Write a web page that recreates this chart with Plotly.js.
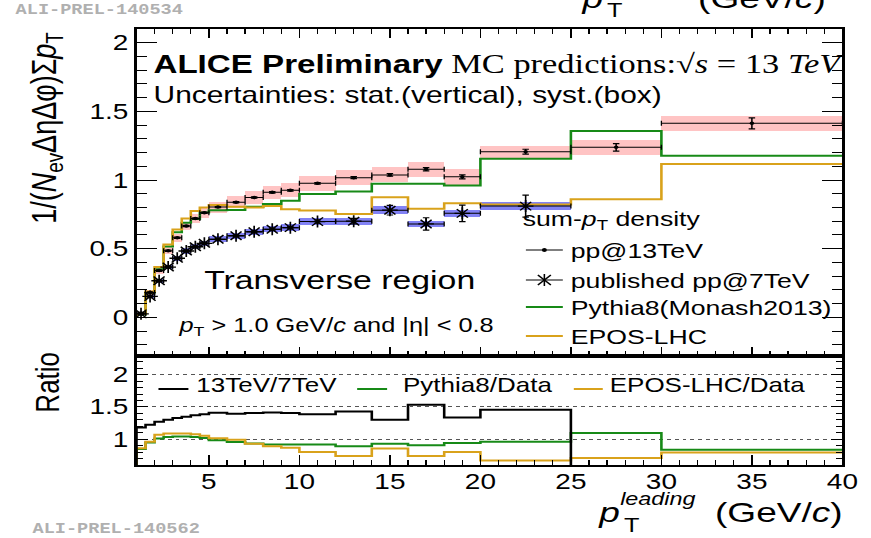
<!DOCTYPE html>
<html><head><meta charset="utf-8">
<script src="https://cdn.plot.ly/plotly-3.0.1.min.js"></script>
<style>
html,body{margin:0;padding:0;overflow:hidden;background:#fff;}
#chart{width:670px;height:538px;transform:scaleX(1.3);transform-origin:0 0;}
</style></head><body><div id="chart"></div>
<script>
// ---- data ----
const binEdges = [1,1.5,2,2.5,3,3.5,4,4.5,5,6,7,8,9,10,12,14,16,18,20,25,30,40];
const pp13     = [0.03,0.18,0.34,0.485,0.58,0.665,0.72,0.762,0.803,0.838,0.872,0.91,0.925,0.976,1.017,1.037,1.078,1.023,1.206,1.238,1.413];
const pp13Stat = [0.006,0.005,0.005,0.005,0.005,0.005,0.005,0.005,0.004,0.005,0.005,0.006,0.006,0.006,0.007,0.009,0.012,0.015,0.018,0.027,0.04];
const pp13Syst = [0.012,0.018,0.022,0.026,0.03,0.032,0.035,0.037,0.04,0.043,0.045,0.048,0.05,0.054,0.055,0.055,0.056,0.057,0.045,0.055,0.056];
const pp7      = [0.025,0.152,0.266,0.366,0.43,0.483,0.514,0.539,0.568,0.594,0.623,0.641,0.653,0.697,0.70,0.78,0.68,0.757,0.81];
const pp7Stat  = [0.005,0.005,0.005,0.005,0.005,0.005,0.005,0.005,0.005,0.006,0.007,0.008,0.009,0.012,0.02,0.035,0.045,0.06,0.08];
const pp7Syst  = [0.01,0.012,0.015,0.017,0.018,0.019,0.02,0.02,0.021,0.022,0.022,0.023,0.023,0.024,0.025,0.03,0.025,0.027,0.03];
const pythia   = [0.02,0.18,0.35,0.515,0.62,0.688,0.716,0.763,0.78,0.782,0.806,0.825,0.848,0.898,0.916,0.972,0.972,0.96,1.155,1.357,1.177];
const epos     = [0.025,0.187,0.366,0.53,0.64,0.72,0.774,0.80,0.818,0.806,0.80,0.81,0.787,0.777,0.752,0.874,0.79,0.83,0.822,0.86,1.117];
const ratio13to7  = [1.18,1.225,1.27,1.30,1.33,1.35,1.37,1.385,1.41,1.395,1.405,1.415,1.405,1.386,1.43,1.30,1.535,1.335,1.458,0,0];
const ratioPythia = [0.85,0.95,1.01,1.036,1.04,1.04,1.036,1.02,0.985,0.955,0.935,0.918,0.918,0.918,0.89,0.93,0.905,0.94,0.96,1.097,0.835];
const ratioEpos   = [0.86,0.96,1.07,1.087,1.09,1.087,1.077,1.055,1.015,0.99,0.93,0.89,0.866,0.80,0.74,0.856,0.74,0.80,0.67,0.71,0.795];

// ---- geometry / style ----
const S = 1.3;                 // horizontal stretch of the reference
const W = 871 / S, H = 538;
const PX0 = 136, PX1 = 843, PY0 = 29, PY1 = 465;
const L = PX0 / S, R = W - PX1 / S, T = PY0, B = H - PY1;
const xp = px => (px - PX0) / (PX1 - PX0);
const yp = py => (PY1 - py) / (PY1 - PY0);
const FONT = 'Liberation Sans, Arial, sans-serif';
const GREEN = '#178a17', ORANGE = '#d9a21b', PINK = 'rgb(255,196,196)', BLUE = 'rgb(130,130,245)';

const lo = binEdges.slice(0, -1), hi = binEdges.slice(1);
const centers = lo.map((a, i) => (a + hi[i]) / 2);
const halfW = lo.map((a, i) => (hi[i] - a) / 2);
const widths = lo.map((a, i) => hi[i] - a);
const stepX = [binEdges[0], ...binEdges];
const stepY = v => [0, ...v, v[v.length - 1]];
const n7 = pp7.length;

const traces = [
  {type:'bar', x:centers, y:pp13Syst.map(s=>2*s), base:pp13.map((v,i)=>v-pp13Syst[i]), width:widths,
   marker:{color:PINK, line:{width:0}}, xaxis:'x', yaxis:'y', hoverinfo:'skip'},
  {type:'bar', x:centers.slice(0,n7), y:pp7Syst.map(s=>2*s), base:pp7.map((v,i)=>v-pp7Syst[i]), width:widths.slice(0,n7),
   marker:{color:BLUE, line:{width:0}}, xaxis:'x', yaxis:'y', hoverinfo:'skip'},
  {type:'scatter', mode:'lines', x:stepX, y:stepY(pythia), line:{shape:'hv', color:GREEN, width:2}, xaxis:'x', yaxis:'y'},
  {type:'scatter', mode:'lines', x:stepX, y:stepY(epos), line:{shape:'hv', color:ORANGE, width:2}, xaxis:'x', yaxis:'y'},
  {type:'scatter', mode:'markers', x:centers, y:pp13, marker:{symbol:'circle', size:3.5, color:'black'},
   error_y:{type:'data', array:pp13Stat, color:'black', thickness:1.2, width:2.5},
   error_x:{type:'data', array:halfW, color:'black', thickness:1, width:2.5}, xaxis:'x', yaxis:'y'},
  {type:'scatter', mode:'markers', x:centers.slice(0,n7), y:pp7,
   marker:{symbol:'asterisk-open', size:10, color:'black', line:{color:'black', width:1.3}},
   error_y:{type:'data', array:pp7Stat, color:'black', thickness:1.2, width:2.5},
   error_x:{type:'data', array:halfW.slice(0,n7), color:'black', thickness:1, width:2.5}, xaxis:'x', yaxis:'y'},
  {type:'scatter', mode:'lines', x:stepX, y:stepY(ratioPythia), line:{shape:'hv', color:GREEN, width:2}, xaxis:'x2', yaxis:'y2'},
  {type:'scatter', mode:'lines', x:stepX, y:stepY(ratioEpos), line:{shape:'hv', color:ORANGE, width:2}, xaxis:'x2', yaxis:'y2'},
  {type:'scatter', mode:'lines', x:stepX, y:stepY(ratio13to7), line:{shape:'hv', color:'black', width:2}, xaxis:'x2', yaxis:'y2'}
];

const tickFont = {family:FONT, size:21.5, color:'black'};
const axBase = {showline:true, linecolor:'black', linewidth:2, ticks:'inside', tickcolor:'black', tickwidth:1,
                showgrid:false, zeroline:false, tickfont:tickFont};

const layout = {
  width:W, height:H, margin:{l:L, r:R, t:T, b:B, pad:0}, showlegend:false,
  paper_bgcolor:'white', plot_bgcolor:'white', barmode:'overlay', bargap:0,
  xaxis: Object.assign({}, axBase, {domain:[0,1], range:[1,40], anchor:'y', showticklabels:false, mirror:'allticks',
          dtick:5, tick0:0, ticklen:9, minor:{ticks:'inside', dtick:1, tick0:0, ticklen:5, tickcolor:'black', tickwidth:1}}),
  xaxis2: Object.assign({}, axBase, {domain:[0,1], range:[1,40], anchor:'y2', mirror:true, ticklabelstandoff:-4,
          dtick:5, tick0:0, ticklen:10, minor:{ticks:'inside', dtick:1, tick0:0, ticklen:5, tickcolor:'black', tickwidth:1}}),
  yaxis: Object.assign({}, axBase, {domain:[0.25,1], range:[-0.282,2.1], anchor:'x', mirror:'allticks',
          dtick:0.5, tick0:0, ticklen:16, minor:{ticks:'inside', dtick:0.1, tick0:0, ticklen:8, tickcolor:'black', tickwidth:1}}),
  yaxis2: Object.assign({}, axBase, {domain:[0,0.25], range:[0.6,2.29], anchor:'x2', mirror:'allticks',
          dtick:0.5, tick0:0, ticklen:9, showgrid:true, griddash:'dot', gridcolor:'#555', gridwidth:1,
          minor:{ticks:'inside', dtick:0.1, tick0:0, ticklen:5, tickcolor:'black', tickwidth:1}}),
  annotations: [], shapes: []
};

function txt(text, px, py, size, extra) {
  layout.annotations.push(Object.assign({xref:'paper', yref:'paper', x:xp(px), y:yp(py), text:text, showarrow:false,
    xanchor:'left', yanchor:'middle', borderpad:0, font:{family:FONT, size:size, color:'black'}}, extra || {}));
}
function seg(x0, y0, x1, y1, color, w) {
  layout.shapes.push({type:'line', xref:'paper', yref:'paper', x0:xp(x0), y0:yp(y0), x1:xp(x1), y1:yp(y1),
    line:{color:color, width:w}});
}
const mono = {family:'Liberation Mono, monospace', size:14.3, color:'#b0b0b0'};
txt('<b>ALI-PREL-140534</b>', 14, 10, 14.3, {font:mono});
txt('<b>ALI-PREL-140562</b>', 30, 529, 14.3, {font:mono});
txt('<b>ALICE Preliminary</b>', 151, 64, 25.5);
txt('MC predictions:√<i>s</i> = 13 <i>TeV</i>', 450, 64, 26.5, {font:{family:'Liberation Serif, serif', size:26.5, color:'black'}});
txt('Uncertainties: stat.(vertical), syst.(box)', 151, 95, 23);
txt('Transverse region', 202, 280, 26);
txt('<i>p</i><sub>T</sub> &gt; 1.0 GeV/<i>c</i> and |η| &lt; 0.8', 176, 326, 19.5);
txt('sum-<i>p</i><sub>T</sub> density', 521, 220, 20.5);
txt('pp@13TeV', 569, 250, 20.5);
txt('published pp@7TeV', 569, 280, 20.5);
txt('Pythia8(Monash2013)', 569, 307, 20.5);
txt('EPOS-LHC', 569, 336, 20.5);
txt('13TeV/7TeV', 195, 385, 20);
txt('Pythia8/Data', 402, 385, 20);
txt('EPOS-LHC/Data', 608, 385, 20);
// x-axis title
txt('<i>p</i>', 597, 512, 28.5);
txt('<i>leading</i>', 619, 499, 18);
txt('T', 623, 525, 19.5);
txt('(GeV/<i>c</i>)', 714, 512, 28.5);
// cut title of the plot above
txt('<i>p</i>', 580, -2, 28.5);
txt('T', 606, 10, 19.5);
txt('(GeV/<i>c</i>)', 697, -2, 28.5);
// y titles
txt('1/(<i>N</i><sub>ev</sub>ΔηΔφ)Σ<i>p</i><sub>T</sub>', 46, 128, 27, {textangle:-90, xanchor:'center'});
txt('Ratio', 47, 382, 26, {textangle:-90, xanchor:'center'});

// legend samples
seg(526, 250, 563, 250, 'black', 1);
layout.shapes.push({type:'circle', xref:'paper', yref:'paper', x0:xp(542), x1:xp(547), y0:yp(252), y1:yp(248),
  fillcolor:'black', line:{width:0}});
seg(526, 280, 563, 280, 'black', 1);
seg(544.5, 274, 544.5, 286, 'black', 1.2);
seg(538, 275, 551, 285, 'black', 1.2);
seg(538, 285, 551, 275, 'black', 1.2);
seg(526, 307, 563, 307, GREEN, 2);
seg(526, 336, 563, 336, ORANGE, 2);
seg(158, 389, 188, 389, 'black', 2);
seg(357, 389, 387, 389, GREEN, 2);
seg(574, 389, 603, 389, ORANGE, 2);

Plotly.newPlot('chart', traces, layout, {staticPlot:true, displayModeBar:false});
</script></body></html>
